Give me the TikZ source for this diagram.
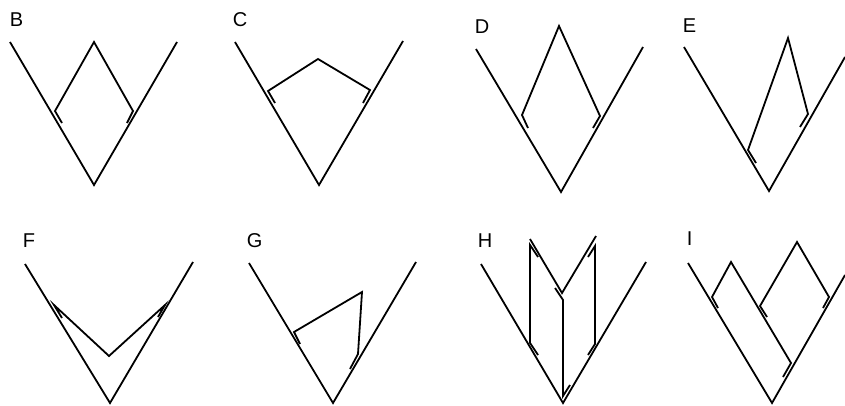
\documentclass[tikz,border=0pt]{standalone}
\usepackage{fontspec}
\setmainfont{Liberation Sans}
\begin{document}
\begin{tikzpicture}[x=1pt,y=-1pt,line width=1.8pt,
  lbl/.style={anchor=base west,inner sep=0pt,font=\fontsize{20}{20}\selectfont}]
  \useasboundingbox (0,0) rectangle (845,405);
  % top row
  \node[lbl] (lblB) at (9,26) {B};
  \draw (10,42) -- (94,185) -- (177,42);
  \draw (62,123) -- (55,111) -- (94,42) -- (133,111) -- (127,123);
  \node[lbl] (lblC) at (232,26) {C};
  \draw (235,42) -- (319,185) -- (403,41);
  \draw (275,103) -- (268,91) -- (318,59) -- (370,90) -- (363,103);
  \node[lbl] (lblD) at (474,33) {D};
  \draw (476,49) -- (561,192) -- (643,47);
  \draw (528,128) -- (522,115) -- (559,26) -- (600,116) -- (593,128);
  \node[lbl] (lblE) at (682,32) {E};
  \draw (684,47) -- (769,191) -- (845,57);
  \draw (756,163) -- (748,150) -- (788,38) -- (808,114) -- (800,127);
  % bottom row
  \node[lbl] (lblF) at (22,247) {F};
  \draw (25,264) -- (110,403) -- (193,262);
  \draw (62,318) -- (54,305) -- (109,356) -- (165,305) -- (158,317);
  \node[lbl] (lblG) at (246,247) {G};
  \draw (249,263) -- (333,403) -- (416,262);
  \draw (300,344) -- (294,332) -- (362,292) -- (358,354) -- (350,369);
  \node[lbl] (lblH) at (477,247) {H};
  \draw (481,264) -- (563,403) -- (646,262);
  \draw (530,239) -- (562,293) -- (596,236);
  \draw (538,257) -- (530,245) -- (530,343) -- (538,355);
  \draw (588,257) -- (595,246) -- (595,344) -- (588,355);
  \draw (555,288) -- (563,300) -- (563,396) -- (570,385);
  \node[lbl] (lblI) at (686,245) {I};
  \draw (688,263) -- (772,403) -- (845,275);
  \draw (718,308) -- (712,297) -- (731,262) -- (791,363) -- (783,377);
  \draw (767,317) -- (760,306) -- (797,242) -- (829,297) -- (823,308);
\end{tikzpicture}
\end{document}
